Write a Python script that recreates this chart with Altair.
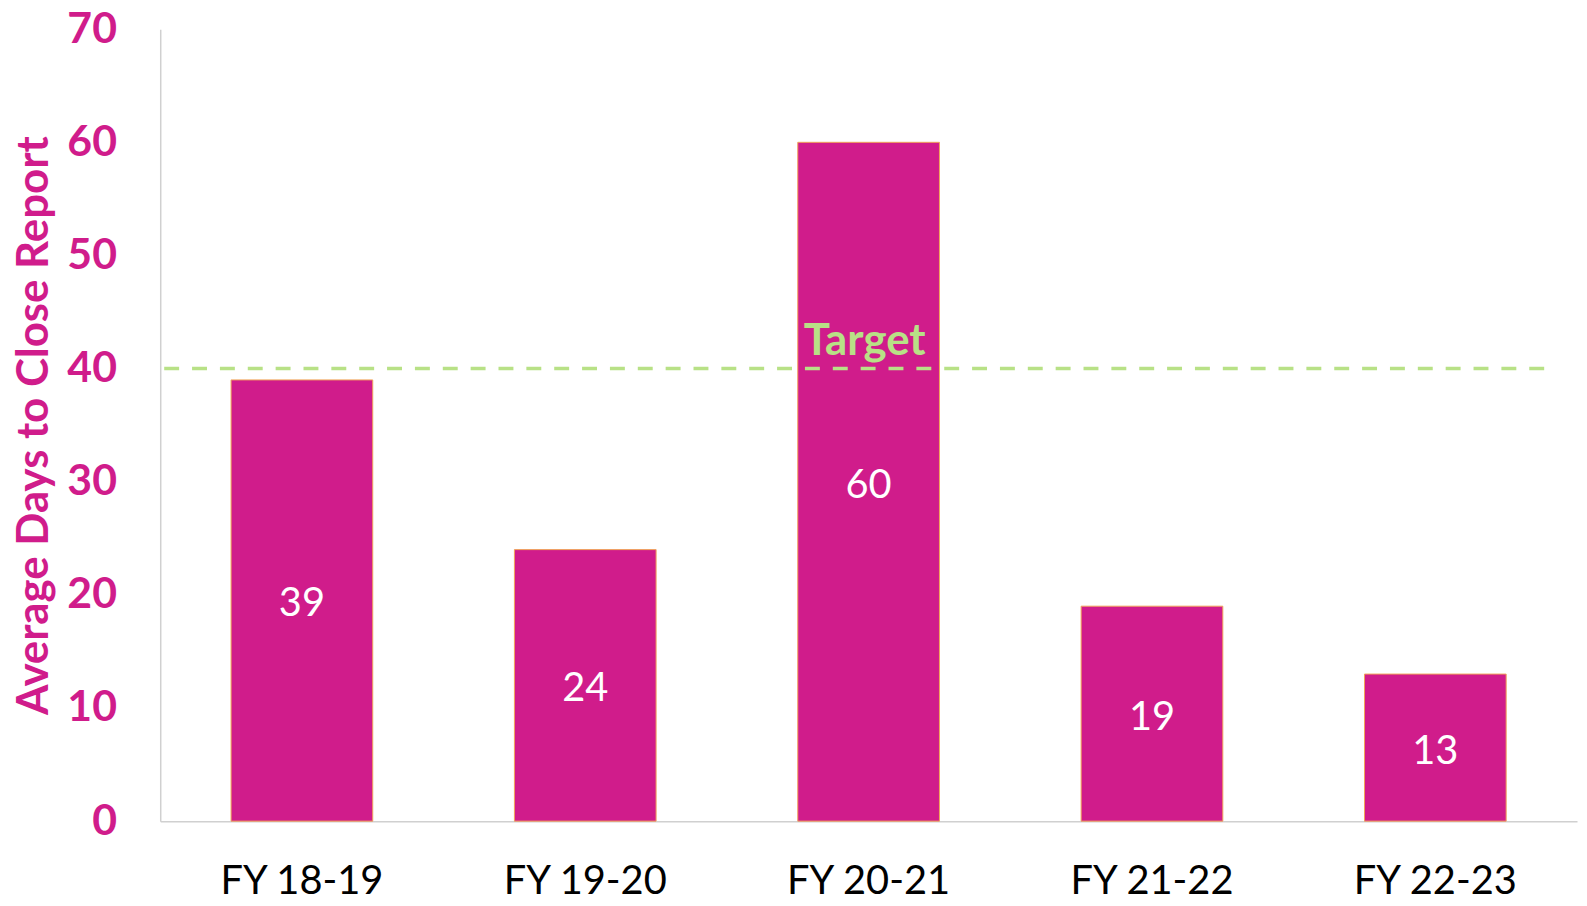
import altair as alt
import pandas as pd

categories = ["FY 18-19", "FY 19-20", "FY 20-21", "FY 21-22", "FY 22-23"]
values = [39, 24, 60, 19, 13]
target_value = 40
target_label = "Target"

df = pd.DataFrame({"year": categories, "days": values})
tdf = pd.DataFrame({"target": [target_value], "label": [target_label], "year": ["FY 20-21"]})

FONT = "Lato"
MAGENTA = "#d01c8b"
GREEN = "#b8e186"

x_enc = alt.X("year:N", sort=categories, title=None,
              scale=alt.Scale(paddingInner=0.5, paddingOuter=0.25),
              axis=alt.Axis(labelAngle=0, labelFont=FONT, labelFontSize=40,
                            labelColor="#000000", labelPadding=41, ticks=False,
                            domainColor="#d0d0d0", domainWidth=1.5, grid=False))
y_enc = alt.Y("days:Q", title="Average Days to Close Report",
              scale=alt.Scale(domain=[0, 70], nice=False),
              axis=alt.Axis(values=[0, 10, 20, 30, 40, 50, 60, 70], labelFont=FONT,
                            labelFontSize=43, labelFontWeight="bold", labelColor=MAGENTA,
                            labelPadding=44, ticks=False, grid=False,
                            domainColor="#d0d0d0", domainWidth=1.5,
                            titleFont=FONT, titleFontSize=44, titleFontWeight="bold",
                            titleColor=MAGENTA, titlePadding=10))

bars = alt.Chart(df).mark_bar(color=MAGENTA, stroke="#f1a35a", strokeWidth=1).encode(
    x=x_enc, y=y_enc)

labels = alt.Chart(df).mark_text(color="white", font=FONT, fontSize=40,
                                 baseline="middle", dy=4).encode(
    x=alt.X("year:N", sort=categories),
    y=alt.Y("mid:Q"),
    text=alt.Text("days:Q")
).transform_calculate(mid="datum.days / 2")

rule = alt.Chart(tdf).mark_rule(color=GREEN, strokeWidth=3.5, strokeDash=[15, 13]).encode(
    y=alt.Y("target:Q"), x=alt.value(4), x2=alt.value(1404))

tlabel = alt.Chart(tdf).mark_text(color=GREEN, font=FONT, fontSize=44, fontWeight="bold",
                                  baseline="bottom", dy=-5, dx=-4).encode(
    x=alt.X("year:N", sort=categories),
    y=alt.Y("target:Q"),
    text="label:N")

chart = alt.layer(bars, labels, rule, tlabel).properties(
    width=1424, height=796,
    autosize=alt.AutoSizeParams(type="none"),
    padding={"left": 153, "top": 19, "right": 2, "bottom": 83},
    background="white"
).configure_view(stroke=None)

chart.save("out.html", embed_options={"renderer": "svg", "actions": False})
